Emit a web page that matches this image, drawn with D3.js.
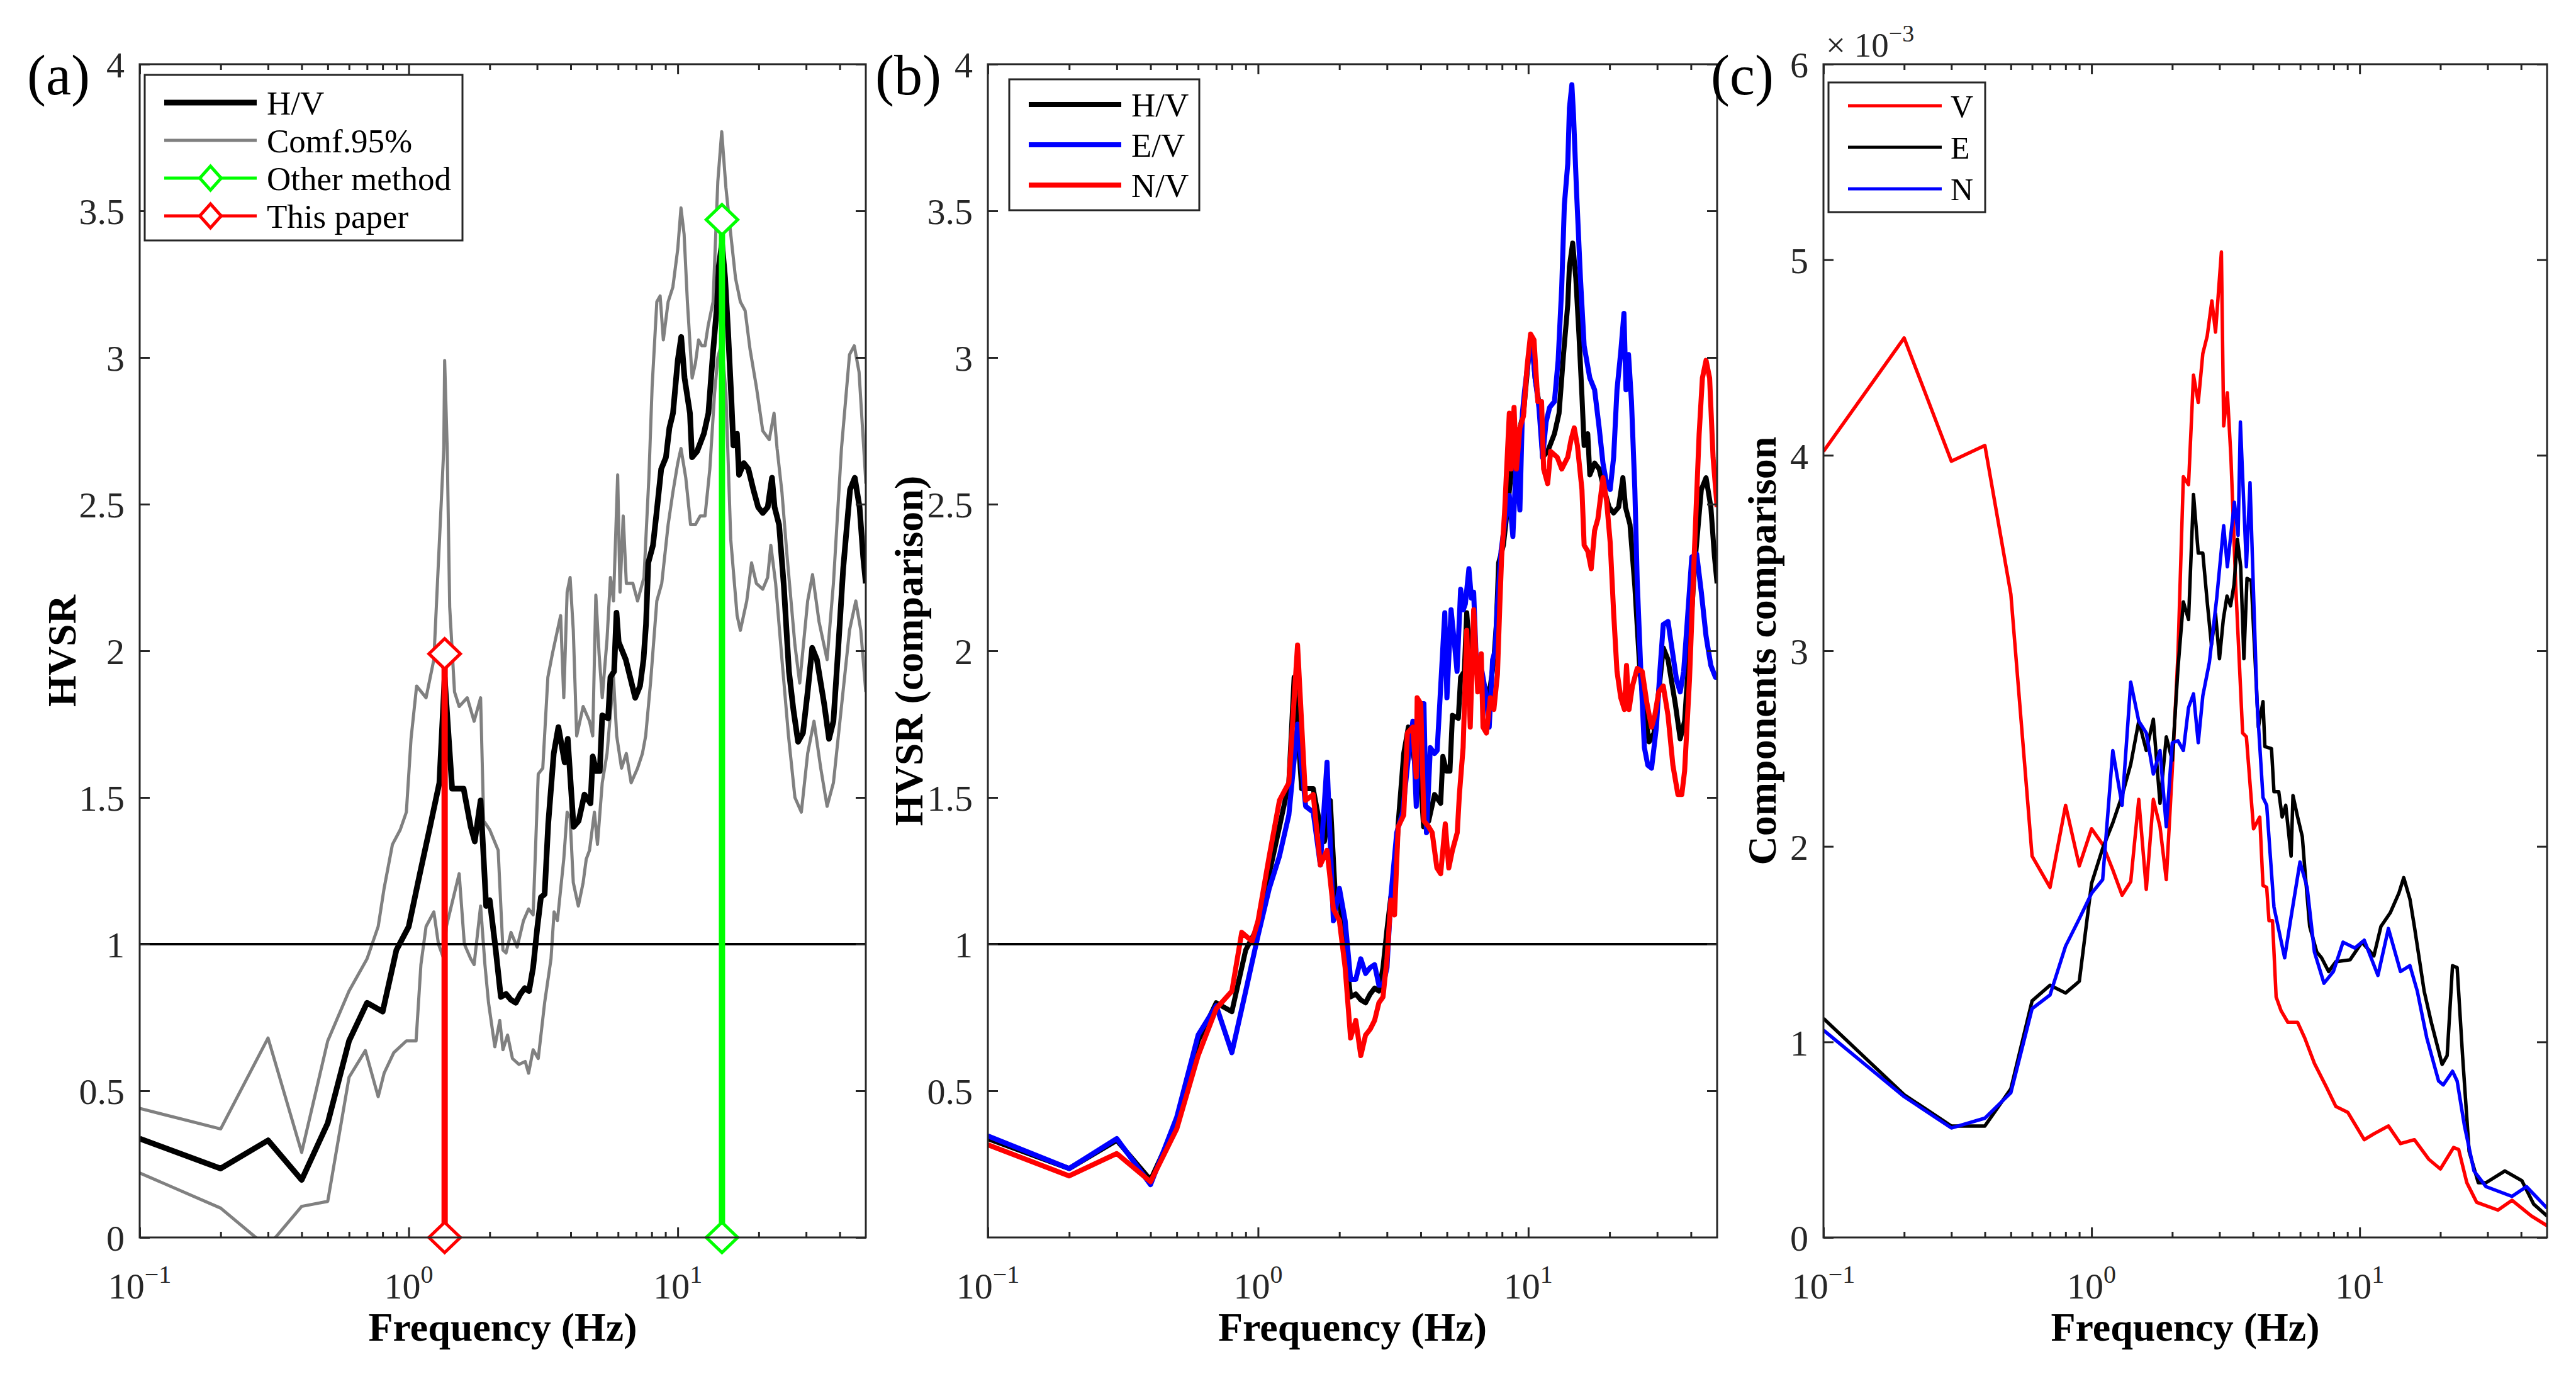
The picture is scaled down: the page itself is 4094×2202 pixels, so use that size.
<!DOCTYPE html>
<html>
<head>
<meta charset="utf-8">
<script src="https://cdnjs.cloudflare.com/ajax/libs/d3/7.8.5/d3.min.js"></script>
<style>
  body { margin: 0; background: #fff; }
  svg text { font-family: "Liberation Serif", "Times New Roman", serif; }
</style>
</head>
<body>
<div id="chart"></div>
<script>
// ---- data: [frequency Hz, value] ----
var hvCurve = [[0.1,0.337],[0.2,0.235],[0.3,0.331],[0.4,0.196],[0.5,0.39],[0.6,0.67],[0.7,0.80],[0.8,0.77],[0.9,0.98],[1.0,1.06],[1.1,1.24],[1.2,1.40],[1.3,1.55],[1.36,1.91],[1.45,1.53],[1.6,1.53],[1.7,1.40],[1.76,1.35],[1.85,1.49],[1.94,1.13],[2.0,1.15],[2.1,0.99],[2.2,0.82],[2.3,0.83],[2.4,0.81],[2.5,0.80],[2.6,0.83],[2.7,0.85],[2.8,0.84],[2.9,0.92],[3.0,1.05],[3.1,1.16],[3.2,1.17],[3.3,1.41],[3.46,1.65],[3.6,1.74],[3.8,1.62],[3.9,1.70],[4.1,1.40],[4.28,1.42],[4.5,1.51],[4.74,1.48],[4.83,1.64],[4.98,1.59],[5.13,1.59],[5.24,1.78],[5.51,1.77],[5.62,1.91],[5.8,1.93],[5.92,2.13],[6.03,2.03],[6.41,1.97],[6.95,1.84],[7.24,1.88],[7.46,1.97],[7.62,2.09],[7.77,2.30],[8.09,2.36],[8.34,2.47],[8.68,2.62],[9.04,2.66],[9.31,2.76],[9.6,2.81],[10.0,2.99],[10.3,3.07],[10.6,2.93],[11.1,2.81],[11.3,2.66],[11.8,2.68],[12.5,2.74],[13.0,2.81],[13.3,2.93],[13.5,3.01],[14.0,3.18],[14.2,3.31],[14.6,3.39],[15.0,3.27],[15.4,3.08],[15.8,2.87],[16.1,2.70],[16.6,2.74],[16.9,2.60],[17.6,2.64],[18.3,2.62],[19.1,2.55],[19.9,2.49],[20.7,2.47],[21.6,2.49],[22.4,2.59],[22.9,2.49],[23.8,2.43],[24.8,2.22],[25.9,1.93],[26.9,1.80],[28.0,1.69],[29.2,1.72],[30.4,1.86],[31.6,2.01],[32.9,1.97],[35.0,1.82],[36.5,1.70],[37.9,1.76],[39.5,2.01],[41.2,2.28],[43.7,2.55],[45.5,2.59],[47.4,2.49],[48.9,2.32],[50,2.23]];

var confUpper = [[0.1,0.44],[0.2,0.37],[0.3,0.68],[0.4,0.29],[0.5,0.67],[0.6,0.84],[0.7,0.95],[0.77,1.06],[0.81,1.19],[0.87,1.34],[0.93,1.39],[0.98,1.45],[1.02,1.70],[1.07,1.88],[1.16,1.84],[1.24,1.97],[1.35,2.69],[1.36,2.99],[1.39,2.69],[1.42,2.15],[1.48,1.86],[1.54,1.81],[1.65,1.84],[1.75,1.76],[1.85,1.84],[1.9,1.42],[2.0,1.39],[2.15,1.32],[2.24,0.98],[2.3,0.97],[2.4,1.04],[2.53,0.99],[2.67,1.08],[2.79,1.12],[2.9,1.10],[3.03,1.58],[3.15,1.60],[3.29,1.91],[3.42,1.99],[3.67,2.12],[3.77,1.84],[3.88,2.20],[3.98,2.25],[4.09,2.07],[4.21,1.71],[4.45,1.81],[4.7,1.76],[4.83,1.71],[4.96,2.19],[5.1,1.99],[5.24,1.84],[5.46,2.04],[5.62,2.25],[5.77,2.17],[5.98,2.60],[6.1,2.20],[6.27,2.46],[6.44,2.23],[6.81,2.23],[7.09,2.17],[7.49,2.25],[7.81,2.59],[8.03,2.90],[8.36,3.19],[8.6,3.21],[8.84,3.06],[9.21,3.19],[9.59,3.24],[10.0,3.37],[10.28,3.51],[10.56,3.42],[10.86,3.19],[11.31,2.93],[11.63,2.98],[11.95,3.06],[12.29,3.04],[12.63,3.04],[12.98,3.11],[13.53,3.19],[14.09,3.60],[14.57,3.77],[15.1,3.58],[15.74,3.42],[16.4,3.27],[17.09,3.19],[17.8,3.16],[18.55,3.03],[19.6,2.90],[20.7,2.75],[21.88,2.72],[22.8,2.81],[23.4,2.69],[24.4,2.54],[25.45,2.33],[27.26,2.02],[28.4,1.89],[30.4,2.17],[31.7,2.26],[33.5,2.10],[35.9,1.97],[37.9,2.23],[40.6,2.69],[43.5,3.01],[45.3,3.04],[47.2,2.95],[49.9,2.59],[50,2.57]];

var confLower = [[0.1,0.22],[0.2,0.10],[0.27,0.0],[0.3,-0.03],[0.4,0.106],[0.5,0.123],[0.6,0.546],[0.69,0.637],[0.77,0.48],[0.81,0.56],[0.88,0.63],[0.98,0.67],[1.065,0.67],[1.11,0.93],[1.16,1.06],[1.24,1.11],[1.29,1.00],[1.35,0.95],[1.38,1.06],[1.44,1.13],[1.54,1.24],[1.61,1.00],[1.7,0.95],[1.75,0.93],[1.85,1.13],[1.92,0.93],[1.98,0.80],[2.09,0.65],[2.18,0.74],[2.24,0.64],[2.33,0.69],[2.43,0.61],[2.57,0.59],[2.71,0.60],[2.79,0.56],[2.9,0.64],[3.03,0.61],[3.2,0.80],[3.38,0.95],[3.47,1.11],[3.57,1.08],[3.77,1.29],[3.88,1.45],[3.98,1.43],[4.09,1.21],[4.27,1.13],[4.45,1.21],[4.57,1.29],[4.7,1.32],[4.9,1.45],[5.03,1.34],[5.24,1.55],[5.46,1.65],[5.77,1.91],[5.93,1.71],[6.18,1.60],[6.44,1.65],[6.71,1.55],[7.09,1.60],[7.39,1.65],[7.6,1.71],[7.92,1.89],[8.36,2.17],[8.72,2.23],[9.21,2.43],[9.59,2.54],[10.0,2.64],[10.28,2.69],[10.71,2.59],[11.16,2.43],[11.63,2.43],[12.12,2.46],[12.63,2.46],[13.16,2.62],[13.71,2.88],[14.09,3.0],[14.57,3.05],[15.1,2.88],[15.74,2.38],[16.62,2.12],[17.09,2.07],[18.05,2.17],[18.81,2.30],[19.6,2.23],[20.7,2.21],[21.58,2.25],[22.18,2.36],[23.11,2.23],[24.4,1.97],[25.8,1.71],[27.26,1.50],[28.8,1.45],[30.4,1.65],[32.1,1.76],[34.0,1.60],[35.9,1.47],[37.9,1.55],[40.6,1.81],[43.5,2.07],[45.9,2.17],[47.9,2.07],[50,1.86]];

var evCurve = [[0.1,0.346],[0.2,0.235],[0.3,0.337],[0.4,0.18],[0.5,0.41],[0.6,0.69],[0.7,0.79],[0.8,0.63],[0.9,0.84],[1.0,1.03],[1.1,1.19],[1.2,1.30],[1.3,1.44],[1.4,1.75],[1.5,1.47],[1.6,1.45],[1.7,1.27],[1.8,1.62],[1.9,1.08],[2.0,1.19],[2.1,1.08],[2.2,0.88],[2.3,0.88],[2.4,0.95],[2.5,0.90],[2.6,0.92],[2.7,0.93],[2.8,0.86],[2.9,0.86],[3.0,0.92],[3.1,1.16],[3.26,1.38],[3.43,1.45],[3.61,1.65],[3.74,1.76],[3.85,1.47],[3.96,1.82],[4.11,1.82],[4.2,1.38],[4.34,1.67],[4.5,1.65],[4.6,1.66],[4.91,2.13],[5.0,1.84],[5.18,2.14],[5.35,2.01],[5.45,1.93],[5.62,2.21],[5.75,2.14],[5.85,2.16],[6.03,2.28],[6.16,2.18],[6.28,2.20],[6.41,1.98],[6.74,1.93],[6.95,1.86],[7.17,1.74],[7.38,1.97],[7.54,2.00],[7.69,2.16],[7.93,2.34],[8.17,2.43],[8.51,2.53],[8.77,2.39],[9.04,2.66],[9.31,2.48],[9.51,2.81],[9.7,2.89],[10.0,2.99],[10.3,3.06],[10.6,2.93],[10.95,2.83],[11.3,2.66],[11.64,2.78],[12.0,2.83],[12.5,2.85],[12.9,2.99],[13.3,3.24],[13.6,3.52],[14.0,3.66],[14.2,3.85],[14.5,3.93],[14.7,3.83],[15.1,3.56],[15.6,3.27],[16.1,3.04],[16.6,2.97],[16.9,2.93],[17.6,2.89],[18.3,2.76],[18.9,2.64],[19.5,2.57],[20.1,2.55],[20.7,2.66],[21.3,2.89],[22.0,3.02],[22.6,3.15],[23.0,2.89],[23.5,3.01],[24.1,2.85],[24.8,2.55],[25.3,2.24],[26.1,1.93],[26.9,1.67],[27.7,1.61],[28.6,1.60],[29.8,1.74],[30.7,1.93],[31.6,2.09],[32.9,2.10],[34.0,2.01],[35.4,1.90],[36.5,1.86],[37.6,1.93],[38.7,2.09],[40.3,2.32],[42.0,2.33],[43.7,2.20],[45.5,2.05],[47.4,1.95],[49.3,1.91],[50,1.91]];

var nvCurve = [[0.1,0.316],[0.2,0.21],[0.3,0.286],[0.4,0.19],[0.5,0.37],[0.6,0.62],[0.7,0.78],[0.8,0.84],[0.87,1.04],[0.95,1.01],[1.0,1.08],[1.1,1.30],[1.2,1.49],[1.3,1.55],[1.4,2.02],[1.5,1.49],[1.6,1.51],[1.7,1.27],[1.8,1.32],[1.9,1.12],[2.0,1.08],[2.1,0.92],[2.2,0.68],[2.3,0.74],[2.4,0.62],[2.5,0.69],[2.6,0.71],[2.7,0.74],[2.8,0.80],[2.9,0.82],[3.0,0.95],[3.1,1.15],[3.2,1.10],[3.3,1.40],[3.46,1.44],[3.57,1.72],[3.74,1.74],[3.85,1.57],[3.88,1.84],[4.0,1.82],[4.11,1.42],[4.28,1.40],[4.41,1.38],[4.59,1.26],[4.74,1.24],[4.93,1.41],[5.08,1.26],[5.24,1.32],[5.46,1.38],[5.56,1.51],[5.74,1.67],[5.92,2.07],[6.1,1.74],[6.28,2.14],[6.5,1.86],[6.7,1.99],[6.8,1.74],[7.0,1.72],[7.24,1.84],[7.46,1.80],[7.69,1.92],[7.85,2.16],[7.97,2.32],[8.17,2.47],[8.51,2.81],[8.65,2.62],[8.86,2.83],[9.04,2.62],[9.31,2.76],[9.6,2.80],[9.9,2.97],[10.2,3.08],[10.5,3.06],[10.85,2.85],[11.2,2.85],[11.4,2.62],[11.8,2.57],[12.1,2.68],[12.8,2.66],[13.3,2.62],[14.0,2.66],[14.4,2.72],[14.8,2.76],[15.2,2.70],[15.8,2.55],[16.1,2.36],[16.6,2.34],[17.1,2.28],[17.6,2.41],[18.1,2.45],[18.9,2.59],[19.5,2.51],[20.1,2.37],[20.7,2.13],[21.3,1.93],[22.0,1.84],[22.7,1.80],[23.1,1.95],[23.6,1.80],[24.3,1.88],[25.3,1.94],[26.4,1.93],[27.5,1.82],[28.6,1.74],[29.4,1.78],[30.4,1.86],[31.6,1.88],[32.9,1.78],[34.3,1.61],[35.8,1.51],[37.0,1.51],[37.9,1.59],[39.5,1.90],[41.2,2.34],[42.9,2.74],[44.1,2.93],[45.5,2.99],[46.9,2.93],[48.3,2.66],[50,2.49]];

// spectra in units of 1e-3
var vSpec = [[0.1,4.02],[0.2,4.60],[0.3,3.97],[0.4,4.05],[0.5,3.29],[0.6,1.95],[0.7,1.79],[0.8,2.21],[0.9,1.90],[1.0,2.09],[1.1,2.01],[1.2,1.88],[1.3,1.75],[1.4,1.82],[1.5,2.24],[1.6,1.78],[1.7,2.24],[1.8,2.10],[1.9,1.83],[2.0,2.39],[2.1,2.98],[2.2,3.89],[2.3,3.85],[2.4,4.41],[2.5,4.27],[2.6,4.52],[2.7,4.61],[2.81,4.79],[2.9,4.63],[3.05,5.04],[3.11,4.15],[3.21,4.32],[3.31,3.99],[3.45,3.33],[3.66,2.58],[3.78,2.56],[4.02,2.09],[4.24,2.15],[4.36,1.80],[4.5,1.79],[4.59,1.62],[4.73,1.62],[4.88,1.23],[5.09,1.16],[5.4,1.10],[5.87,1.10],[6.24,1.02],[6.78,0.89],[7.51,0.77],[8.15,0.67],[9.03,0.64],[10.4,0.50],[11.3,0.53],[12.8,0.57],[14.2,0.48],[16.0,0.50],[18.1,0.40],[20.0,0.35],[22.4,0.46],[23.4,0.45],[25.1,0.28],[27.3,0.18],[32.8,0.14],[37,0.19],[43.7,0.11],[50,0.06]];

var eSpec = [[0.1,1.12],[0.2,0.73],[0.3,0.57],[0.4,0.57],[0.5,0.76],[0.6,1.21],[0.7,1.29],[0.8,1.25],[0.9,1.31],[1.0,1.81],[1.1,1.99],[1.2,2.12],[1.3,2.26],[1.4,2.42],[1.5,2.64],[1.6,2.49],[1.7,2.65],[1.8,2.22],[1.9,2.56],[2.0,2.44],[2.1,2.91],[2.2,3.25],[2.3,3.16],[2.4,3.80],[2.5,3.50],[2.6,3.50],[2.7,3.25],[2.8,3.03],[2.9,3.19],[3.0,2.96],[3.1,3.16],[3.2,3.28],[3.3,3.23],[3.4,3.34],[3.5,3.57],[3.6,3.43],[3.7,2.96],[3.8,3.37],[3.94,3.36],[4.19,2.61],[4.36,2.74],[4.43,2.51],[4.69,2.50],[4.79,2.28],[4.99,2.28],[5.14,2.15],[5.3,2.21],[5.55,1.95],[5.64,2.26],[5.87,2.15],[6.11,2.05],[6.24,1.89],[6.51,1.59],[6.92,1.46],[7.21,1.43],[7.66,1.36],[8.15,1.41],[9.21,1.42],[10.2,1.51],[11.3,1.44],[12.0,1.59],[13.0,1.66],[14.0,1.76],[14.6,1.84],[15.4,1.73],[16.0,1.59],[17.4,1.26],[18.5,1.10],[20.3,0.885],[21.2,0.93],[22.2,1.39],[23.1,1.38],[24.2,0.93],[25.6,0.44],[27.7,0.28],[29.6,0.28],[34.8,0.34],[40.3,0.29],[44.6,0.17],[50,0.11]];

var nSpec = [[0.1,1.06],[0.2,0.72],[0.3,0.56],[0.4,0.61],[0.5,0.74],[0.6,1.17],[0.7,1.24],[0.8,1.49],[0.9,1.63],[1.0,1.76],[1.1,1.83],[1.2,2.49],[1.3,2.21],[1.4,2.84],[1.5,2.64],[1.6,2.58],[1.7,2.37],[1.8,2.49],[1.9,2.10],[2.0,2.53],[2.1,2.54],[2.2,2.49],[2.3,2.71],[2.4,2.78],[2.5,2.53],[2.6,2.77],[2.75,2.94],[2.93,3.27],[3.11,3.64],[3.21,3.43],[3.41,3.76],[3.52,3.59],[3.59,4.17],[3.78,3.43],[3.9,3.86],[4.14,2.74],[4.36,2.25],[4.5,2.21],[4.79,1.69],[5.25,1.43],[5.52,1.62],[5.99,1.92],[6.37,1.79],[6.78,1.46],[7.36,1.30],[7.98,1.36],[8.67,1.51],[9.6,1.48],[10.4,1.52],[11.7,1.34],[12.8,1.58],[14.2,1.36],[15.4,1.39],[16.4,1.26],[17.8,1.02],[19.7,0.80],[20.5,0.78],[22.2,0.85],[23.1,0.80],[24.6,0.57],[26.7,0.34],[29.6,0.26],[37,0.21],[41.9,0.26],[50,0.15]];

// picked peaks: [frequency, amplitude]
var otherMethodPeak = [14.6, 3.47];
var thisPaperPeak = [1.36, 1.99];

var xMajor = [0.1, 1, 10];
var xExp = ["\u22121", "0", "1"];
var xMinor = [0.2,0.3,0.4,0.5,0.6,0.7,0.8,0.9,2,3,4,5,6,7,8,9,20,30,40];
var hvTicks = [0,0.5,1,1.5,2,2.5,3,3.5,4];
var cmpTicks = [0.5,1,1.5,2,2.5,3,3.5,4];
var specTicks = [0,1,2,3,4,5,6];

// ---- setup ----
var W = 4094, H = 2202;
var axisColor = "#262626";
var svg = d3.select("#chart").append("svg")
    .attr("width", W).attr("height", H)
    .style("background", "#fff");
var defs = svg.append("defs");

function makePanel(id, left, width, yDomain) {
    var top = 102, bottom = 1966;
    var p = {id: id, left: left, right: left + width, top: top, bottom: bottom};
    p.x = d3.scaleLog().domain([0.1, 50]).range([left, left + width]);
    p.y = d3.scaleLinear().domain(yDomain).range([bottom, top]);
    defs.append("clipPath").attr("id", "clip-" + id)
        .append("rect").attr("x", left).attr("y", top)
        .attr("width", width).attr("height", bottom - top);
    p.plot = svg.append("g").attr("clip-path", "url(#clip-" + id + ")");
    return p;
}

function drawFrame(p, yTicks, ylabel, ylabelX, tag) {
    var g = svg.append("g").attr("color", axisColor);
    g.append("g").attr("transform", "translate(0," + p.bottom + ")")
        .call(d3.axisBottom(p.x).tickValues(xMajor).tickSizeInner(-16).tickSizeOuter(0).tickFormat(""));
    g.append("g").attr("transform", "translate(0," + p.bottom + ")")
        .call(d3.axisBottom(p.x).tickValues(xMinor).tickSizeInner(-9).tickSizeOuter(0).tickFormat(""));
    g.append("g").attr("transform", "translate(0," + p.top + ")")
        .call(d3.axisTop(p.x).tickValues(xMajor).tickSizeInner(-16).tickSizeOuter(0).tickFormat(""));
    g.append("g").attr("transform", "translate(0," + p.top + ")")
        .call(d3.axisTop(p.x).tickValues(xMinor).tickSizeInner(-9).tickSizeOuter(0).tickFormat(""));
    var yl = g.append("g").attr("transform", "translate(" + p.left + ",0)")
        .call(d3.axisLeft(p.y).tickValues(yTicks).tickSizeInner(-16).tickSizeOuter(0)
            .tickPadding(24).tickFormat(d3.format("")));
    yl.attr("font-size", 58).attr("font-family", null);
    yl.selectAll("text").attr("fill", axisColor).attr("dy", "0.36em");
    g.append("g").attr("transform", "translate(" + p.right + ",0)")
        .call(d3.axisRight(p.y).tickValues(yTicks).tickSizeInner(-16).tickSizeOuter(0).tickFormat(""));
    g.selectAll(".domain").remove();
    g.selectAll(".tick line").attr("stroke-width", 3);
    g.append("rect")
        .attr("x", p.left).attr("y", p.top)
        .attr("width", p.right - p.left).attr("height", p.bottom - p.top)
        .attr("fill", "none").attr("stroke", axisColor).attr("stroke-width", 3);

    // log tick labels 10^n
    xMajor.forEach(function(v, i) {
        var t = svg.append("text")
            .attr("x", p.x(v)).attr("y", 2063)
            .attr("text-anchor", "middle")
            .attr("font-size", 58).attr("fill", axisColor);
        t.append("tspan").text("10");
        t.append("tspan").attr("font-size", 40).attr("dy", -25).text(xExp[i]);
    });

    svg.append("text")
        .attr("x", (p.left + p.right) / 2).attr("y", 2130)
        .attr("text-anchor", "middle")
        .attr("font-size", 64).attr("font-weight", "bold")
        .text("Frequency (Hz)");

    svg.append("text")
        .attr("transform", "translate(" + ylabelX + "," + ((p.top + p.bottom) / 2) + ") rotate(-90)")
        .attr("text-anchor", "middle")
        .attr("font-size", 64).attr("font-weight", "bold")
        .text(ylabel);

    svg.append("text")
        .attr("x", p.left - 179).attr("y", 150)
        .attr("font-size", 90)
        .text(tag);
}

function drawCurve(p, data, color, width) {
    var line = d3.line()
        .x(function(d) { return p.x(d[0]); })
        .y(function(d) { return p.y(d[1]); });
    p.plot.append("path")
        .datum(data)
        .attr("d", line)
        .attr("fill", "none")
        .attr("stroke", color)
        .attr("stroke-width", width)
        .attr("stroke-linejoin", "round");
}

function unitLine(p) {
    p.plot.append("line")
        .attr("x1", p.left).attr("x2", p.right)
        .attr("y1", p.y(1)).attr("y2", p.y(1))
        .attr("stroke", "#000").attr("stroke-width", 4);
}

function diamond(g, cx, cy, w, h, color) {
    g.append("path")
        .attr("d", "M" + cx + "," + (cy - h) + "L" + (cx + w) + "," + cy + "L" + cx + "," + (cy + h) + "L" + (cx - w) + "," + cy + "Z")
        .attr("fill", "#fff").attr("stroke", color).attr("stroke-width", 5);
}

function legend(box, items, rows, x1, x2, tx, fontSize) {
    var g = svg.append("g");
    g.append("rect")
        .attr("x", box[0]).attr("y", box[1]).attr("width", box[2]).attr("height", box[3])
        .attr("fill", "#fff").attr("stroke", axisColor).attr("stroke-width", 3);
    items.forEach(function(it, i) {
        var yy = rows[i];
        g.append("line")
            .attr("x1", x1).attr("x2", x2).attr("y1", yy).attr("y2", yy)
            .attr("stroke", it.color).attr("stroke-width", it.width);
        if (it.marker) diamond(g, (x1 + x2) / 2, yy, 17, 19, it.color);
        g.append("text")
            .attr("x", tx).attr("y", yy).attr("dy", "0.35em")
            .attr("font-size", fontSize)
            .text(it.label);
    });
}

// ---- panel (a) ----
var pa = makePanel("a", 222, 1154, [0, 4]);
drawCurve(pa, confUpper, "#808080", 5);
drawCurve(pa, confLower, "#808080", 5);
drawCurve(pa, hvCurve, "#000", 9);
unitLine(pa);
[[otherMethodPeak, "#00ff00"], [thisPaperPeak, "#ff0000"]].forEach(function(pk) {
    var f = pk[0][0], a = pk[0][1];
    svg.append("line")
        .attr("x1", pa.x(f)).attr("x2", pa.x(f))
        .attr("y1", pa.y(0)).attr("y2", pa.y(a))
        .attr("stroke", pk[1]).attr("stroke-width", 10);
    diamond(svg, pa.x(f), pa.y(a), 25, 24, pk[1]);
    diamond(svg, pa.x(f), pa.y(0), 25, 24, pk[1]);
});
drawFrame(pa, hvTicks, "HVSR", 120, "(a)");
legend([230, 119, 505, 263], [
    {label: "H/V", color: "#000", width: 9},
    {label: "Comf.95%", color: "#808080", width: 5},
    {label: "Other method", color: "#00ff00", width: 5, marker: true},
    {label: "This paper", color: "#ff0000", width: 5, marker: true}
], [163, 223, 283, 343], 261, 408, 424, 53);

// ---- panel (b) ----
var pb = makePanel("b", 1570, 1159, [0, 4]);
drawCurve(pb, hvCurve, "#000", 8);
drawCurve(pb, evCurve, "#0000ff", 8);
drawCurve(pb, nvCurve, "#ff0000", 8);
unitLine(pb);
drawFrame(pb, cmpTicks, "HVSR (comparison)", 1466, "(b)");
legend([1604, 126, 302, 208], [
    {label: "H/V", color: "#000", width: 8},
    {label: "E/V", color: "#0000ff", width: 8},
    {label: "N/V", color: "#ff0000", width: 8}
], [166, 230, 294], 1635, 1782, 1798, 53);

// ---- panel (c) ----
var pc = makePanel("c", 2898, 1150, [0, 6]);
drawCurve(pc, vSpec, "#ff0000", 5.5);
drawCurve(pc, eSpec, "#000", 5.5);
drawCurve(pc, nSpec, "#0000ff", 5.5);
drawFrame(pc, specTicks, "Components comparison", 2822, "(c)");
legend([2906, 131, 249, 206], [
    {label: "V", color: "#ff0000", width: 5},
    {label: "E", color: "#000", width: 5},
    {label: "N", color: "#0000ff", width: 5}
], [168, 234, 300], 2937, 3086, 3100, 50);

var mult = svg.append("text").attr("x", 2902).attr("y", 90)
    .attr("font-size", 55).attr("fill", axisColor);
mult.append("tspan").text("\u00d7 10");
mult.append("tspan").attr("font-size", 38).attr("dy", -24).text("\u22123");
</script>
</body>
</html>
